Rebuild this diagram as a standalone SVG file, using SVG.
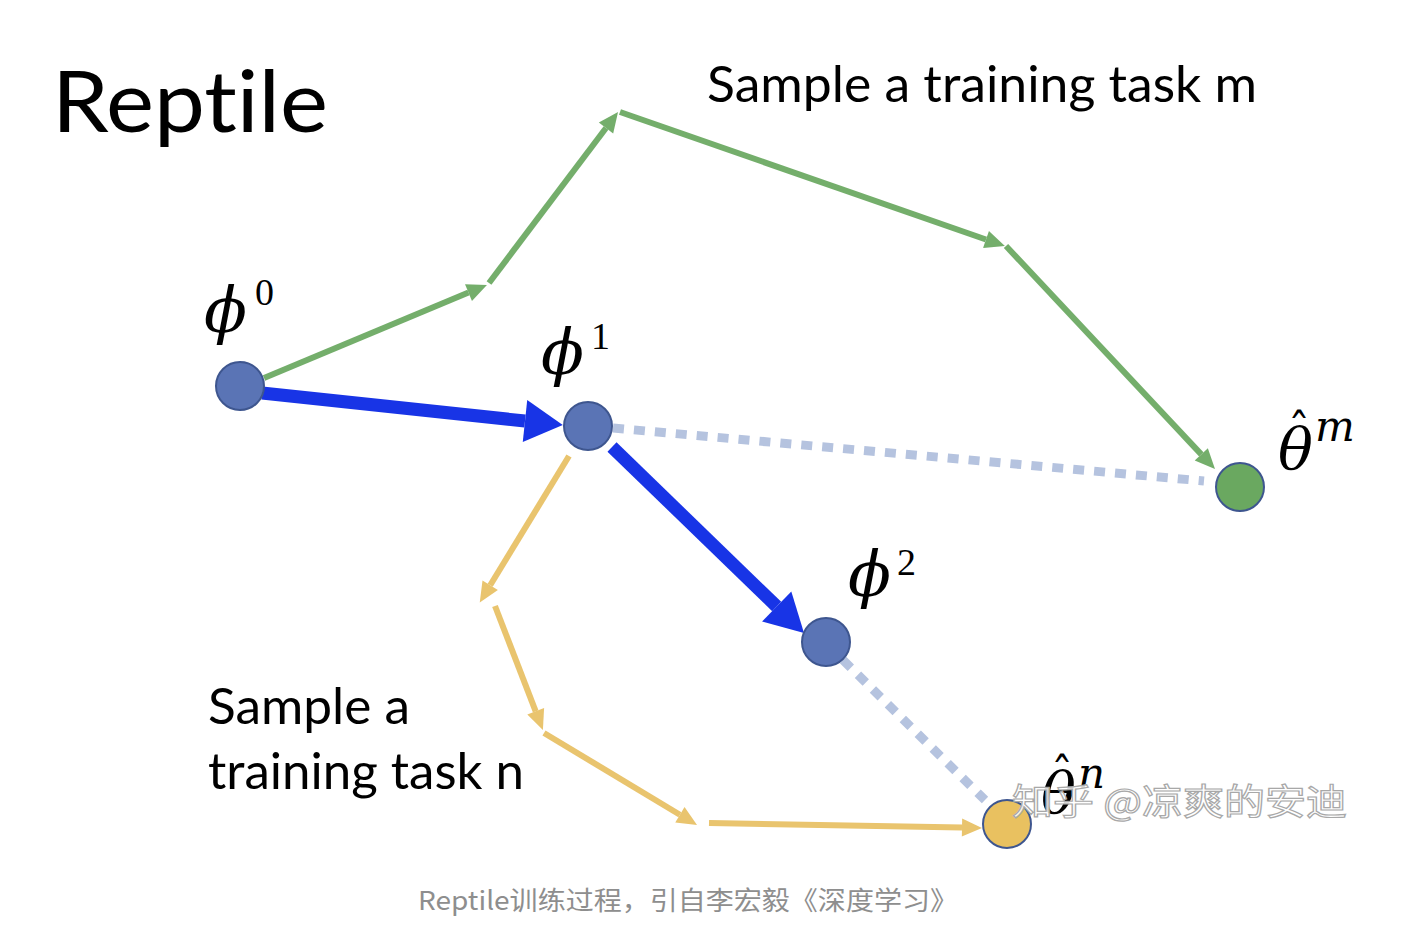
<svg xmlns="http://www.w3.org/2000/svg" width="1424" height="946" viewBox="0 0 1424 946">
<style>
.lbl{font-family:Lato,"Open Sans",sans-serif;fill:#000;font-variant-ligatures:none}
.math{font-family:"DejaVu Serif","Liberation Serif",serif;font-style:italic;fill:#000}
.up{font-family:"Liberation Serif","DejaVu Serif",serif;font-style:normal;fill:#000}
.node{fill:#5a74b5;stroke:#3e568f;stroke-width:2}
.g{stroke:#74ae6b;stroke-width:6;fill:none}
.y{stroke:#e9c46e;stroke-width:6;fill:none}
.b{stroke:#1834e6;stroke-width:13;fill:none}
.d{stroke:#b5c3df;stroke-width:9;fill:none;stroke-dasharray:11 10}
</style>
<defs>
<marker id="mb" markerUnits="userSpaceOnUse" viewBox="0 -22 40 44" markerWidth="40" markerHeight="44" refX="0" refY="0" orient="auto" overflow="visible"><path d="M0,-21 L38,0 L0,21 z" fill="#1834e6"/></marker>
<marker id="mg" markerUnits="userSpaceOnUse" viewBox="0 -10 22 20" markerWidth="22" markerHeight="20" refX="0" refY="0" orient="auto" overflow="visible"><path d="M0,-9 L20,0 L0,9 z" fill="#74ae6b"/></marker>
<marker id="my" markerUnits="userSpaceOnUse" viewBox="0 -10 22 20" markerWidth="22" markerHeight="20" refX="0" refY="0" orient="auto" overflow="visible"><path d="M0,-9 L20,0 L0,9 z" fill="#e9c46e"/></marker>
</defs>
<rect width="1424" height="946" fill="#fff"/>
<text class="lbl" x="52" y="132" font-size="86" textLength="276" lengthAdjust="spacingAndGlyphs">Reptile</text>
<text class="lbl" x="707" y="102" font-size="50" textLength="550" lengthAdjust="spacingAndGlyphs">Sample a training task m</text>
<text class="lbl" x="208" y="724" font-size="50" textLength="202" lengthAdjust="spacingAndGlyphs">Sample a</text>
<text class="lbl" x="208" y="789" font-size="50" textLength="316" lengthAdjust="spacingAndGlyphs">training task n</text>
<g id="connectors">
<line class="d" x1="613" y1="428" x2="1204" y2="481"/>
<line class="d" x1="843" y1="660" x2="985" y2="800"/>
<line class="g" x1="264" y1="378" x2="468.5" y2="292.6" marker-end="url(#mg)"/>
<line class="g" x1="489" y1="283" x2="606" y2="128" marker-end="url(#mg)"/>
<line class="g" x1="620" y1="112" x2="986" y2="239.5" marker-end="url(#mg)"/>
<line class="g" x1="1006" y1="246" x2="1201.3" y2="454.4" marker-end="url(#mg)"/>
<line class="y" x1="569" y1="456" x2="490.2" y2="585.3" marker-end="url(#my)"/>
<line class="y" x1="495" y1="606" x2="535.7" y2="711.3" marker-end="url(#my)"/>
<line class="y" x1="544" y1="733" x2="679.9" y2="814.7" marker-end="url(#my)"/>
<line class="y" x1="709" y1="823" x2="962" y2="827.6" marker-end="url(#my)"/>
<line class="b" x1="262" y1="393" x2="525" y2="421" marker-end="url(#mb)"/>
<line class="b" x1="612" y1="447" x2="776.7" y2="606.5" marker-end="url(#mb)"/>
</g>
<g id="phi0"><circle class="node" cx="240" cy="386" r="24"/><text class="math" x="204" y="332" font-size="63">ϕ</text><text class="up" x="255" y="305" font-size="38">0</text></g>
<g id="phi1"><circle class="node" cx="588" cy="426" r="24"/><text class="math" x="541" y="374" font-size="63">ϕ</text><text class="up" x="591" y="349" font-size="38">1</text></g>
<g id="phi2"><circle class="node" cx="826" cy="642" r="24"/><text class="math" x="848" y="596" font-size="63">ϕ</text><text class="up" x="897" y="575" font-size="38">2</text></g>
<g id="thetam"><circle cx="1240" cy="487" r="24" fill="#6aa860" stroke="#3e568f" stroke-width="2"/><text class="math" x="1278" y="469" font-size="58">θ<tspan x="1288" y="446" font-size="44" style="font-style:normal">ˆ</tspan><tspan x="1315" y="441" font-size="42">m</tspan></text></g>
<g id="thetan"><circle cx="1007" cy="824" r="24" fill="#e9c160" stroke="#3e568f" stroke-width="2"/><text class="math" x="1041" y="813" font-size="58">θ<tspan x="1051" y="790" font-size="44" style="font-style:normal">ˆ</tspan><tspan x="1078" y="788" font-size="42">n</tspan></text></g>
<text x="1012" y="815" font-family="'Noto Sans CJK SC',sans-serif" font-size="36" fill="#fff" fill-opacity="0.85" stroke="#a8a8a8" stroke-width="1.2" textLength="335" lengthAdjust="spacingAndGlyphs">知乎 @凉爽的安迪</text>
<text x="418" y="910" font-family="'Noto Sans CJK SC',sans-serif" font-size="26" fill="#8e8e8e" textLength="540" lengthAdjust="spacingAndGlyphs">Reptile训练过程，引自李宏毅《深度学习》</text>
</svg>
